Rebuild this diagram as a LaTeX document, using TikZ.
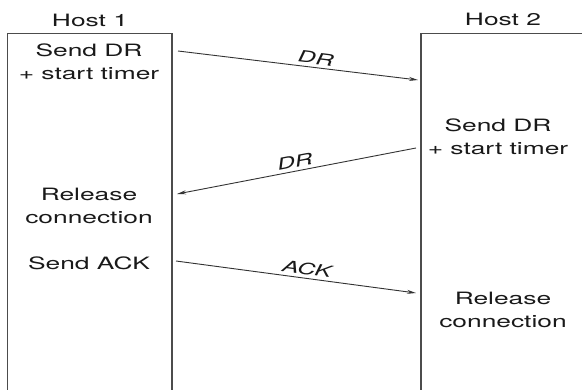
\documentclass[tikz,border=0pt]{standalone}
\usepackage{fontspec}
\setmainfont{TeX Gyre Heros}[FakeStretch=1.55]
\usetikzlibrary{arrows.meta}
\begin{document}
\begin{tikzpicture}[x=1pt,y=-1pt,
  lbl/.style={font=\fontsize{17}{23}\selectfont, align=center, inner sep=0pt, text=black!90},
  msg/.style={font=\fontsize{16}{20}\selectfont\itshape, sloped, above, inner sep=3pt, text=black!90},
  hostline/.style={draw=black!70, line width=1.3pt},
  arr/.style={draw=black!80, line width=0.9pt, -{Stealth[length=9pt,width=4pt]}}]
\useasboundingbox (0,0) rectangle (582,390);
\fill[white] (0,0) rectangle (582,390);
% host boxes
\draw[hostline] (7.5,392) -- (7.5,33.5) -- (172,33.5) -- (172,392);
\draw[hostline] (421,392) -- (421,33.5) -- (590,33.5);
% headings
\node[lbl] (h1) at (90,20) {Host 1};
\node[lbl] (h2) at (503,19) {Host 2};
% left texts
\node[lbl] (l1) at (89,62) {Send DR\\+ start timer};
\node[lbl] (l2) at (89,206) {Release\\connection};
\node[lbl] (l3) at (89,263) {Send ACK};
% right texts
\node[lbl] (r1) at (498,137) {Send DR\\+ start timer};
\node[lbl] (r2) at (503,310) {Release\\connection};
% message end points
\coordinate (a1) at (178,51);
\coordinate (b1) at (418,80);
\coordinate (a2) at (416,148);
\coordinate (b2) at (177,194);
\coordinate (a3) at (176,261);
\coordinate (b3) at (416,293);
\draw[arr] (a1) -- node[msg, pos=0.57] {DR} (b1);
\draw[arr] (a2) -- node[msg, pos=0.5] {DR} (b2);
\draw[arr] (a3) -- node[msg, pos=0.54] {ACK} (b3);
\end{tikzpicture}
\end{document}
